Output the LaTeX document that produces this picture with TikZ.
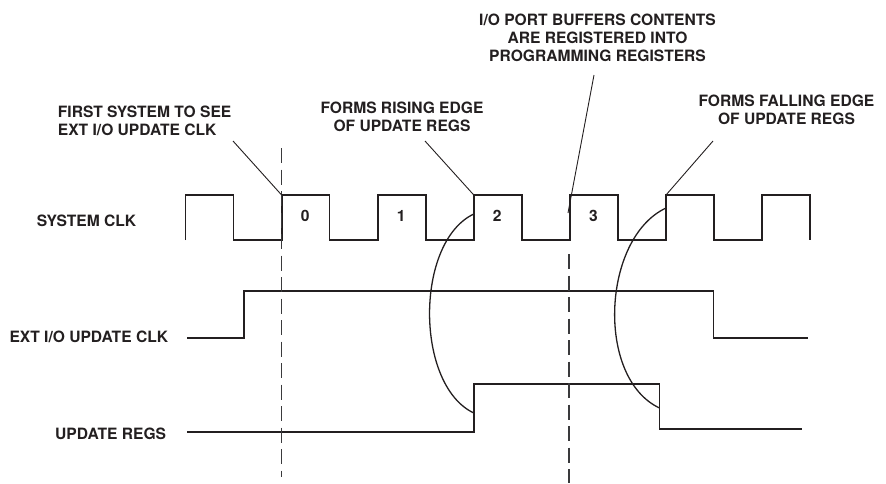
\documentclass[tikz,border=0pt]{standalone}
\usepackage{fontspec}
\setmainfont{TeX Gyre Heros}
\usetikzlibrary{calc}
\definecolor{ink}{HTML}{231F20}
\definecolor{guideink}{HTML}{3A3A3C}
\tikzset{
  font=\bfseries\fontsize{15.6}{18}\selectfont,
  %
  wave/.style={draw=ink, line width=1.8pt, line join=miter},
  leader/.style={draw=ink, line width=0.9pt},
  arcline/.style={draw=ink, line width=1.3pt},
  guide/.style={draw=guideink, line width=1.4pt, dash pattern=on 15pt off 6.5pt},
  %
  lbl/.style={anchor=base west, inner sep=0pt, text=ink},
  note/.style={anchor=north, inner sep=0pt, text=ink, align=center},
  digit/.style={anchor=base, inner sep=0pt, text=ink},
}
\begin{document}
\begin{tikzpicture}[x=1pt, y=-1pt]

  \useasboundingbox (0,0) rectangle (886,483);

  % system clock, rising edges named r0..r6
  \draw[wave] (185.5,240)
    \foreach \k in {0,...,5} {
      -- ++(0,-45) coordinate (r\k) -- ++(47.9,0) -- ++(0,45) -- ++(48.2,0)
    }
    -- ++(0,-45) coordinate (r6) -- ++(47.9,0) -- ++(0,45);

  \foreach \n [evaluate=\n as \k using int(\n+1)] in {0,...,3}
    \node[digit] (d\n) at ($(r\k)+(23.5,26)$) {\n};

  % ext i/o update clock
  \draw[wave] (187,338) -- (244,338) -- (244,291) -- (713.5,291)
    -- (713.5,338) -- (808,338);

  % update regs
  \draw[wave] (187,432) -- (473.8,432) coordinate (u0) -- (473.8,384)
    -- (659.5,384) -- (659.5,429) coordinate (u1) -- (802,429);

  % dashed guides
  \draw[guide] ($(r1)+(0,-47)$) -- ($(r1)+(0,282)$);
  \draw[guide] ($(r4)+(-0.8,59)$) -- ($(r4)+(-0.8,288)$);

  % edge to edge arcs
  \coordinate (a1) at ($(r3)+(0,19)$);
  \coordinate (b1) at ($(u0)+(0,-19)$);
  \coordinate (a2) at ($(r5)+(0,13)$);
  \coordinate (b2) at ($(u1)+(0,-21)$);
  \draw[arcline] (a1) .. controls +(-59,28) and +(-59,-28) .. (b1);
  \draw[arcline] (a2) .. controls +(-64,30) and +(-64,-30) .. (b2);

  % row labels
  \node[lbl] (sysclk) at (36.7,226.7) {SYSTEM CLK};
  \node[lbl] (extclk) at (9.3,342.3) {EXT I/O UPDATE CLK};
  \node[lbl] (upregs) at (55,439) {UPDATE REGS};

  % callouts
  \node[note, anchor=north west, align=left] (first) at (57.7,106)
    {FIRST SYSTEM TO SEE\\EXT I/O UPDATE CLK};
  \node[note] (rising) at (402,101.7)
    {FORMS RISING EDGE\\OF UPDATE REGS};
  \node[note] (ioport) at (597.5,14)
    {I/O PORT BUFFERS CONTENTS\\ARE REGISTERED INTO\\PROGRAMMING REGISTERS};
  \node[note] (falling) at (786.5,95)
    {FORMS FALLING EDGE\\OF UPDATE REGS};

  \coordinate (t1) at (233,141);
  \coordinate (t2) at (425,141);
  \coordinate (t3) at (594,75);
  \coordinate (p3) at (568,213);
  \coordinate (t4) at (713,141);
  \draw[leader] (t1) -- (r1);
  \draw[leader] (t2) -- (r3);
  \draw[leader] (t3) -- (p3);
  \draw[leader] (t4) -- (r5);

\end{tikzpicture}
\end{document}
